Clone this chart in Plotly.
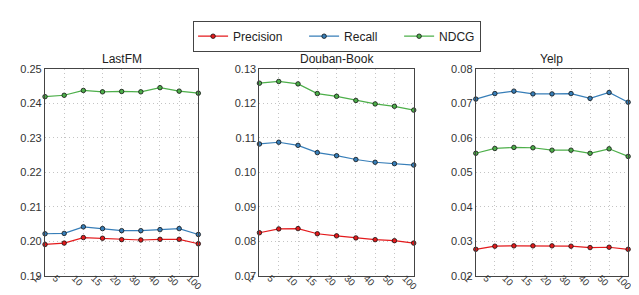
import plotly.graph_objects as go

x_labels = ["1", "5", "10", "15", "20", "30", "40", "50", "100"]
series_names = ["Precision", "Recall", "NDCG"]
legend_pad = ["\u00a0" * 5, "\u00a0" * 5, ""]
colors = ["#e41a1c", "#377eb8", "#4daf4a"]

datasets = ["LastFM", "Douban-Book", "Yelp"]

lastfm_precision = [0.1991, 0.1995, 0.2011, 0.2009, 0.2005, 0.2004, 0.2006, 0.2006, 0.1993]
lastfm_recall    = [0.2022, 0.2023, 0.2042, 0.2037, 0.2031, 0.2031, 0.2034, 0.2037, 0.2020]
lastfm_ndcg      = [0.2419, 0.2423, 0.2437, 0.2433, 0.2434, 0.2433, 0.2445, 0.2435, 0.2429]

douban_precision = [0.0825, 0.0836, 0.0837, 0.0822, 0.0816, 0.0810, 0.0805, 0.0802, 0.0795]
douban_recall    = [0.1082, 0.1087, 0.1078, 0.1057, 0.1048, 0.1037, 0.1029, 0.1025, 0.1021]
douban_ndcg      = [0.1258, 0.1263, 0.1256, 0.1228, 0.1220, 0.1208, 0.1198, 0.1191, 0.1180]

yelp_precision = [0.0277, 0.0286, 0.0287, 0.0287, 0.0287, 0.0286, 0.0282, 0.0283, 0.0277]
yelp_recall    = [0.0712, 0.0728, 0.0735, 0.0727, 0.0727, 0.0728, 0.0714, 0.0731, 0.0703]
yelp_ndcg      = [0.0555, 0.0569, 0.0572, 0.0571, 0.0564, 0.0564, 0.0555, 0.0568, 0.0546]

y_ranges = [(0.19, 0.25), (0.07, 0.13), (0.02, 0.08)]
y_dtick = 0.01

panel_series = [
    [lastfm_precision, lastfm_recall, lastfm_ndcg],
    [douban_precision, douban_recall, douban_ndcg],
    [yelp_precision, yelp_recall, yelp_ndcg],
]

W, H = 639, 295
x_domains = [(33 / W, 191 / W), (254 / W, 413 / W), (477 / W, 634 / W)]
y_domain = (1 - 273 / H, 1 - 57 / H)
FONT = "Liberation Sans, Arial"
LABEL_SHIFT_PX = 9  # rotated tick labels are moved left so they centre on their ticks

fig = go.Figure()
idx = list(range(len(x_labels)))
xr = [0, len(x_labels) - 1]

for p, series in enumerate(panel_series):
    ax = "" if p == 0 else str(p + 1)
    lab = str(p + 4)
    for s, vals in enumerate(series):
        fig.add_trace(go.Scatter(
            x=idx, y=vals, mode="lines+markers",
            name=series_names[s] + legend_pad[s],
            legendgroup=series_names[s],
            showlegend=(p == 0),
            cliponaxis=False,
            line=dict(color=colors[s], width=1.2),
            marker=dict(color=colors[s], size=4.5, line=dict(color="#111", width=0.8)),
            xaxis="x" + ax, yaxis="y" + ax,
        ))
    axis_common = dict(
        showline=True, linecolor="#444", linewidth=1.2, mirror=True,
        showgrid=True, gridcolor="#c4c4c4", griddash="1px,3px", gridwidth=1,
        zeroline=False, ticks="",
    )
    d0, d1 = x_domains[p]
    sh = LABEL_SHIFT_PX / W
    fig.update_layout(**{
        "xaxis" + ax: dict(
            domain=[d0, d1], anchor="y" + ax,
            range=xr, tickmode="array", tickvals=idx,
            showticklabels=False, **axis_common),
        "yaxis" + ax: dict(
            domain=list(y_domain), anchor="x" + ax,
            range=list(y_ranges[p]), dtick=y_dtick, tick0=0,
            tickformat=".2f",
            tickfont=dict(family=FONT, size=11, color="#333"),
            **axis_common),
        # label-only axis pair: carries the rotated x tick labels
        "xaxis" + lab: dict(
            domain=[d0 - sh, d1 - sh], anchor="y" + lab,
            range=xr, tickmode="array", tickvals=idx, ticktext=x_labels,
            tickangle=45, ticklabelstandoff=-6,
            showgrid=False, showline=False, zeroline=False, ticks="",
            tickfont=dict(family=FONT, size=9.5, color="#333")),
        "yaxis" + lab: dict(
            domain=list(y_domain), anchor="x" + lab,
            range=[0, 1], visible=False),
    })
    fig.add_trace(go.Scatter(
        x=[xr[0]], y=[0], mode="markers", marker=dict(opacity=0),
        showlegend=False, hoverinfo="skip", xaxis="x" + lab, yaxis="y" + lab,
    ))
    fig.add_annotation(
        text=datasets[p], xref="paper", yref="paper",
        x=(d0 + d1) / 2, y=y_domain[1],
        xanchor="center", yanchor="bottom", yshift=1, showarrow=False,
        font=dict(family=FONT, size=12, color="#222"),
    )

fig.update_layout(
    width=W, height=H,
    margin=dict(l=0, r=0, t=0, b=0),
    paper_bgcolor="white", plot_bgcolor="rgba(0,0,0,0)",
    legend=dict(
        orientation="h", x=334 / W, xanchor="center", y=1 - 7 / H, yanchor="top",
        bordercolor="#444", borderwidth=1,
        font=dict(family=FONT, size=12, color="#222"),
        itemwidth=30,
        tracegroupgap=0,
    ),
)

fig.write_html("out.html")
